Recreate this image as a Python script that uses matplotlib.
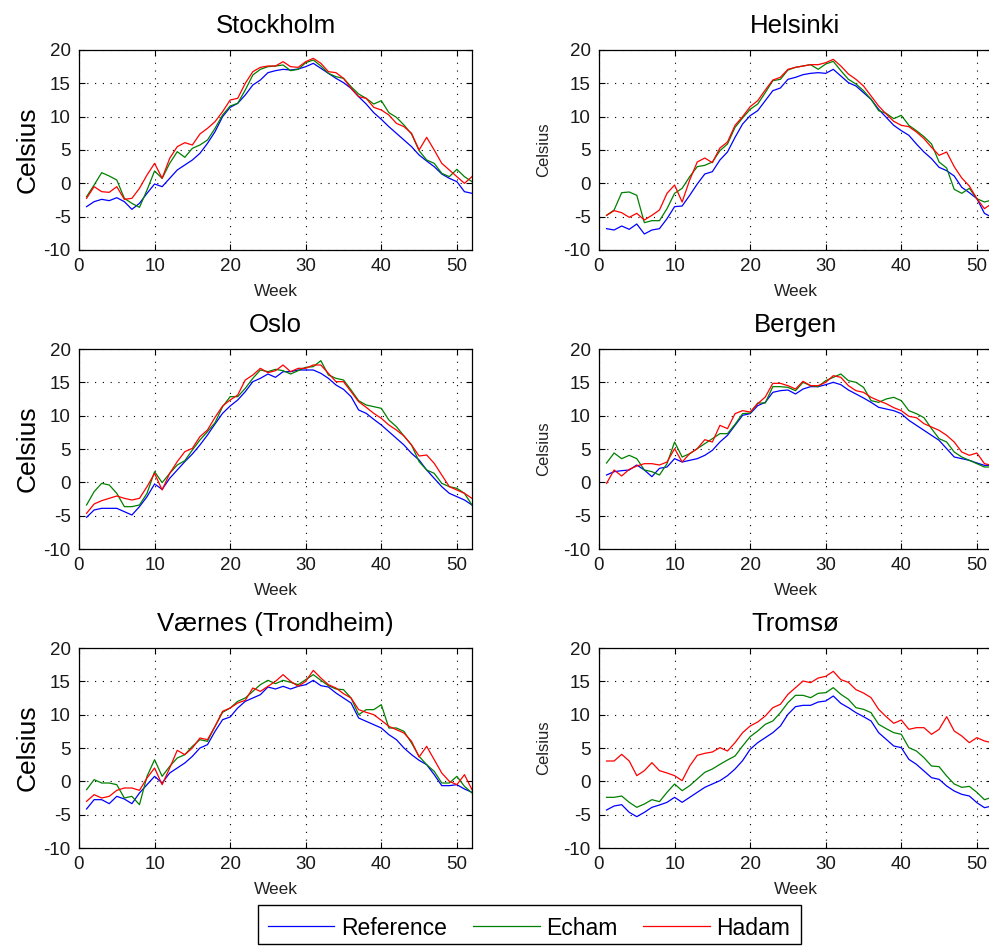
import numpy as np
import matplotlib
matplotlib.use("Agg")
import matplotlib.pyplot as plt
from matplotlib.patches import Rectangle

plt.rcParams['font.family'] = ['Liberation Sans', 'DejaVu Sans']
plt.rcParams['axes.unicode_minus'] = False

weeks = np.arange(1, 53)

stations = ["Stockholm", "Helsinki", "Oslo", "Bergen", "Værnes (Trondheim)", "Tromsø"]
series_names = ["Reference", "Echam", "Hadam"]

# weekly mean temperatures
sto_ref = [-3.5, -2.75, -2.4, -2.6, -2.15, -2.75, -3.9, -3, -1.5, -0.1, -0.5, 0.75, 2, 2.75, 3.5, 4.5, 6, 7.75,
           10, 11.4, 12, 13.25, 14.75, 15.5, 16.6, 16.9, 17.1, 17, 17.15, 17.5, 18, 17.25, 16.5, 15.75, 15.1,
           14.25, 13, 11.9, 10.6, 9.6, 8.5, 7.5, 6.5, 5.5, 4.25, 3.35, 2.5, 1.4, 0.75, 0.25, -1.25, -1.5]
sto_ech = [-2, -0.25, 1.6, 1.1, 0.5, -2.25, -3, -3.6, -1, 1.85, 0.75, 3, 4.75, 3.9, 5.25, 5.75, 6.5, 8.25,
           10.25, 11.6, 12, 14, 16.25, 17.1, 17.5, 17.6, 17.75, 16.9, 17.1, 18.1, 18.5, 17.6, 16.5, 16, 15.75,
           14.5, 13.4, 12.75, 11.9, 12.4, 10.6, 9.9, 8.75, 7.4, 4.9, 3.5, 3, 1.5, 1, 2.1, 1, 0.25]
sto_had = [-2.25, -0.5, -1.25, -1.35, -0.5, -2.4, -2.25, -0.75, 1.25, 3, 0.75, 3.75, 5.5, 6.1, 5.75, 7.4,
           8.25, 9.25, 10.75, 12.5, 12.75, 15, 16.75, 17.4, 17.6, 17.6, 18.25, 17.5, 17.4, 18.25, 18.75, 18,
           16.75, 16.6, 15.75, 14.25, 13, 12.75, 11.4, 11, 10.25, 9, 8.5, 7.5, 5, 6.9, 5, 3, 2, 1, 0, 1]

hel_ref = [-6.8, -7, -6.4, -6.9, -6.1, -7.6, -7, -6.8, -5.3, -3.5, -3.4, -1.8, -0.1, 1.4, 1.75, 3.5, 4.7,
           6.9, 8.9, 10.15, 10.9, 12.4, 13.9, 14.3, 15.6, 15.9, 16.3, 16.5, 16.6, 16.5, 17.1, 16.1, 15.1,
           14.6, 13.6, 12.6, 11.1, 9.9, 8.7, 7.9, 7.2, 5.9, 4.7, 3.7, 2.4, 1.9, 1.1, -0.6, -1.4, -2.3, -4.5, -5.1]
hel_ech = [-4.8, -4, -1.4, -1.3, -1.8, -5.9, -5.6, -5.6, -3.8, -1.5, -0.75, 1, 2.5, 2.7, 3.2, 4.9, 5.9,
           8.4, 9.8, 11.1, 11.9, 13.6, 15.4, 15.6, 17, 17.4, 17.6, 17.8, 17.1, 17.9, 18.3, 16.9, 15.6, 14.9,
           13.9, 12.6, 10.9, 10.5, 9.7, 10.2, 8.7, 7.9, 7, 5.9, 3.2, 2.3, -0.9, -1.5, -0.75, -2.3, -2.8, -2.5]
hel_had = [-4.8, -4.1, -4.4, -5.1, -4.5, -5.5, -4.8, -4, -1.5, -0.25, -2.8, 0.5, 3.2, 3.8, 3.1, 5.3, 6.2,
           8.7, 10, 11.5, 12.4, 14, 15.5, 15.9, 17.1, 17.4, 17.6, 17.8, 17.8, 18.1, 18.6, 17.6, 16.4, 15.6,
           14.6, 13.1, 11.6, 10.4, 9.3, 8.7, 8.5, 7.7, 6.7, 5.4, 4.2, 4.7, 2.5, 0.8, -0.4, -2.3, -3.8, -3]

osl_ref = [-5.25, -4.15, -3.9, -3.9, -3.9, -4.4, -4.9, -3.65, -2.15, -0.25, -1.05, 0.6, 1.85, 3.1, 4.25,
           5.6, 7.1, 8.75, 10.35, 11.45, 12.35, 13.6, 15.1, 15.6, 16.25, 15.75, 16.6, 16.6, 16.85, 16.85,
           16.85, 16.35, 15.6, 14.6, 13.95, 12.85, 10.85, 10.35, 9.45, 8.6, 7.6, 6.6, 5.6, 4.35, 3.35, 1.85,
           0.6, -0.65, -1.65, -2.15, -2.65, -3.4]
osl_ech = [-3.4, -1.4, -0.15, -0.4, -1.65, -3.65, -3.65, -3.4, -1.65, 1.6, -0.05, 1.35, 2.6, 3.25, 4.85,
           6.35, 7.6, 8.95, 11.35, 12.85, 12.85, 14.1, 15.6, 16.85, 16.6, 16.95, 16.75, 16.25, 16.75, 17.25,
           17.35, 18.25, 16.1, 15.6, 15.35, 13.85, 12.25, 11.6, 11.35, 11.1, 9.35, 8.35, 6.95, 5.6, 3.1, 1.85,
           1.35, -0.15, -0.65, -0.9, -1.65, -3.4]
osl_had = [-4.65, -3.25, -2.75, -2.4, -2.05, -2.4, -2.65, -2.4, -0.65, 1.35, -1.15, 1.35, 3.1, 4.6, 5.1,
           6.85, 7.85, 9.75, 11.45, 12.35, 13.1, 15.35, 16.1, 17.1, 16.45, 16.75, 17.6, 16.6, 17.1, 17.1,
           17.6, 17.6, 16.35, 15.1, 15.1, 13.6, 12.1, 11.25, 10.35, 9.6, 8.6, 7.85, 6.95, 5.6, 3.95, 4.1,
           2.85, 1.1, -0.65, -1.15, -1.65, -2.4]

ber_ref = [1.1, 1.6, 1.75, 1.85, 2.6, 1.85, 0.85, 2.1, 2.3, 3.55, 3.05, 3.3, 3.55, 4.05, 4.8, 6.05, 7.05,
           8.55, 10.05, 10.3, 11.5, 12, 13.5, 13.75, 13.85, 13.25, 14, 14.35, 14.35, 14.65, 15, 14.65, 13.85,
           13.25, 12.65, 12, 11.25, 11, 10.75, 10.3, 9.3, 8.55, 7.8, 7.05, 6.3, 5.05, 3.8, 3.55, 3.3, 2.9,
           2.55, 2.55]
ber_ech = [2.9, 4.4, 3.55, 4.05, 3.55, 1.85, 1.6, 1.1, 2.8, 6.05, 3.8, 4.3, 5.05, 5.8, 6.55, 7.3, 7.3, 8.7,
           10.3, 10.4, 11.9, 11.9, 14.35, 14.35, 14.25, 13.75, 15, 14.5, 14.35, 15.25, 15.75, 16.25, 15.25,
           15, 14.25, 12.25, 12, 12.5, 12.75, 12.25, 10.75, 10.3, 9.7, 8.05, 6.55, 6.05, 4.55, 3.8, 3.3, 2.8,
           2.3, 2.3]
ber_had = [-0.15, 1.85, 0.95, 1.95, 2.45, 2.8, 2.8, 2.6, 3.05, 5.05, 3.05, 4.3, 5.05, 6.4, 6.05, 8.55,
           8.05, 10.3, 10.75, 10.55, 11.8, 12.8, 14.85, 14.85, 14.5, 14, 15.15, 14.5, 14.5, 15, 16, 15.75,
           14.5, 13.75, 13.5, 12.75, 12.25, 11.8, 11.2, 10.75, 9.9, 9.7, 8.8, 8.3, 7.8, 7.05, 6.05, 4.55,
           4.05, 4.4, 2.8, 2.55]

vae_ref = [-4.15, -2.75, -2.75, -3.35, -2.25, -2.65, -3.35, -1.75, -0.5, 0.75, -0.25, 1.25, 2, 2.75,
           3.75, 5, 5.5, 7.5, 9.25, 9.65, 11, 12, 12.5, 13, 14.15, 13.85, 14.25, 13.85, 14.25, 14.5, 15.15,
           14.35, 14.15, 13.25, 12.5, 11.75, 9.5, 9, 8.5, 8, 7, 6.25, 5, 4, 3.15, 2.5, 1, -0.65, -0.65, -0.5,
           -1.15, -1.65]
vae_ech = [-1.25, 0.25, -0.25, -0.25, -0.5, -2.5, -2.25, -3.5, 0.75, 3.25, 0.75, 2.25, 3.5, 4, 5.25, 6.25,
           6, 8.25, 10.35, 11, 12, 12.5, 13.5, 14.5, 15.15, 14.65, 15.15, 14.85, 14.5, 15.25, 16, 15.15,
           14.35, 13.85, 13.75, 12.5, 10, 10.75, 10.75, 11.5, 8, 8, 7.5, 5.75, 3.75, 2.5, 1.5, -0.25, -0.25,
           0.75, -0.75, -1.75]
vae_had = [-3, -2, -2.5, -2.25, -1.35, -1, -1, -1.35, 0.5, 2, -0.5, 2, 4.65, 4, 5, 6.5, 6.25, 8.25, 10.5,
           11, 11.75, 12.15, 14, 13.5, 14.25, 15, 16, 15, 14.25, 15, 16.65, 15.5, 14.5, 14, 13.15, 12.5,
           10.75, 10.35, 10, 9.15, 8.25, 7.75, 7.25, 6, 3.65, 5.25, 3.25, 1.25, 0, -0.5, 1, -1.25]

tro_ref = [-4.3, -3.7, -3.5, -4.65, -5.3, -4.65, -3.9, -3.55, -3.15, -2.4, -3.15, -2.4, -1.65, -0.9, -0.4,
           0.1, 0.85, 1.85, 3.1, 4.8, 5.8, 6.55, 7.3, 8.3, 10.05, 11.2, 11.4, 11.4, 11.9, 12.05, 12.8, 11.7,
           11.05, 10.3, 9.7, 9.05, 7.3, 6.3, 5.3, 5.05, 3.3, 2.55, 1.55, 0.55, 0.3, -0.7, -1.45, -1.95, -2.2,
           -3.2, -3.95, -3.7]
tro_ech = [-2.4, -2.4, -2.2, -3.15, -3.9, -3.4, -2.75, -3.05, -1.65, -0.4, -1.4, -0.65, 0.35, 1.35, 1.85,
           2.55, 3.2, 3.8, 5.3, 6.7, 7.55, 8.55, 9.05, 10.3, 11.8, 12.9, 12.9, 12.55, 13.2, 13.3, 14.05, 13.05,
           12.3, 11.05, 10.8, 10.3, 8.55, 7.9, 7.3, 7.05, 5.05, 4.55, 3.55, 2.3, 2.2, 0.8, -0.4, -0.9, -0.75,
           -1.65, -2.75, -2.4]
tro_had = [3.05, 3.05, 4.05, 3.05, 0.85, 1.6, 2.8, 1.6, 1.25, 0.85, 0.1, 2.3, 3.9, 4.2, 4.4, 5.05, 4.55,
           5.8, 7.3, 8.3, 8.9, 9.8, 11.05, 11.55, 13.05, 14.05, 15.05, 14.8, 15.5, 15.75, 16.5, 15.25, 14.85,
           13.75, 13.25, 12.55, 10.8, 9.7, 8.7, 9.2, 7.8, 8.05, 8.05, 7.05, 7.8, 9.7, 7.55, 6.8, 5.8, 6.55,
           6.05, 5.8]

data = [
    (sto_ref, sto_ech, sto_had),
    (hel_ref, hel_ech, hel_had),
    (osl_ref, osl_ech, osl_had),
    (ber_ref, ber_ech, ber_had),
    (vae_ref, vae_ech, vae_had),
    (tro_ref, tro_ech, tro_had),
]

colors = ['#0000ff', '#008000', '#ff0000']

# axes boxes in pixels, right column runs off the edge like the original
W, H = 989, 946
col_left = [79, 599]
row_top = [50, 349, 648]
ax_w, ax_h = 393, 200


def make_axes(fig, i):
    r, c = divmod(i, 2)
    left = col_left[c] / W
    bottom = 1 - (row_top[r] + ax_h) / H
    return fig.add_axes([left, bottom, ax_w / W, ax_h / H])


fig = plt.figure(figsize=(W / 100, H / 100), dpi=100)

lines = []
for i, name in enumerate(stations):
    ax = make_axes(fig, i)
    for vals, col, lab in zip(data[i], colors, series_names):
        ln, = ax.plot(weeks, vals, color=col, lw=0.9, label=lab)
        if i == 0:
            lines.append(ln)

    ax.set_xlim(0, 52)
    ax.set_ylim(-10, 20)
    ax.set_xticks([0, 10, 20, 30, 40, 50])
    ax.set_yticks([-10, -5, 0, 5, 10, 15, 20])
    ax.grid(True, color='black', linestyle=(0, (1, 6)), linewidth=0.8)
    ax.tick_params(direction='in', length=4, width=0.8, labelsize=13.5, pad=6,
                   top=True, right=True, colors='black', labelcolor='#1a1a1a')
    for sp in ax.spines.values():
        sp.set_linewidth(0.9)

    ax.set_title(name, fontsize=18.5, pad=12)
    ax.set_xlabel('Week', fontsize=12.5, labelpad=6, color='#222222')
    if i % 2 == 0:
        ax.set_ylabel('Celsius', fontsize=19, labelpad=3)
    else:
        ax.set_ylabel('Celsius', fontsize=12, labelpad=9, color='#222222')

# legend row at the bottom, frame drawn by hand so the padding matches
leg = fig.legend(handles=lines, labels=series_names, ncol=3, loc='center',
                 bbox_to_anchor=(529 / W, 1 - 928 / H), borderaxespad=0,
                 fontsize=16.5, handlelength=2.92, handletextpad=0.28, columnspacing=1.13,
                 borderpad=0.0, frameon=False)
fig.patches.append(Rectangle((257.5 / W, 1 - 944 / H), (801 - 257.5) / W, 39 / H,
                             transform=fig.transFigure, fill=False, edgecolor='black', linewidth=1.0))

fig.savefig('out.png', dpi=100)
